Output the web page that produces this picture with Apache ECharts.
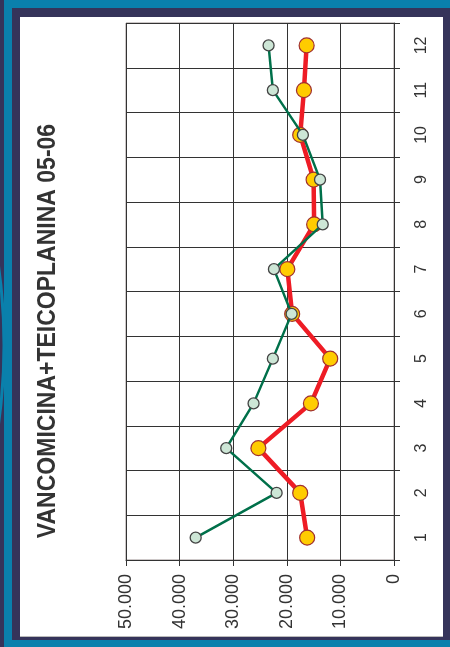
<!DOCTYPE html>
<html>
<head>
<meta charset="utf-8">
<script src="https://cdn.jsdelivr.net/npm/echarts@6/dist/echarts.min.js"></script>
<style>
  html, body { margin: 0; padding: 0; }
  body { width: 450px; height: 647px; background: #35345a; position: relative; overflow: hidden; }
  .teal { position: absolute; background: #0a80ac; }
  #panel { position: absolute; left: 20px; top: 17px; width: 423px; height: 619px; background: #ffffff; border-bottom: 1px solid #bbbbbb; }
  #chart { position: absolute; left: 0; top: 0; width: 450px; height: 647px; }
</style>
</head>
<body>
<div class="teal" style="left:4px;top:0;width:446px;height:8px;"></div>
<div class="teal" style="left:4px;top:0;width:8px;height:645px;"></div>
<div class="teal" style="left:4px;top:640px;width:446px;height:7px;"></div>
<div id="panel"></div>
<div id="chart"></div>
<script>
const titleText = 'VANCOMICINA+TEICOPLANINA 05-06';
const categories = ['1', '2', '3', '4', '5', '6', '7', '8', '9', '10', '11', '12'];
const valueTicks = [0, 10000, 20000, 30000, 40000, 50000];
const greenValues = [37000, 21900, 31300, 26200, 22600, 19100, 22400, 13300, 13800, 17000, 22600, 23400];
const redValues = [16200, 17500, 25300, 15500, 11900, 19000, 19900, 14900, 15000, 17500, 16800, 16300];

const chart = echarts.init(document.getElementById('chart'), null, { renderer: 'canvas' });

function fmt(v) {
  return String(v).replace(/\B(?=(\d{3})+(?!\d))/g, '.');
}

const option = {
  backgroundColor: 'transparent',
  animation: false,
  graphic: [
    {
      type: 'circle',
      silent: true,
      shape: { cx: -561, cy: 345, r: 565 },
      style: { fill: 'none', stroke: '#0a80ac', lineWidth: 3 }
    },
    {
      type: 'text',
      silent: true,
      x: 48,
      y: 331,
      rotation: Math.PI / 2,
      scaleY: 1.12,
      style: {
        text: titleText,
        fill: '#333333',
        font: 'bold 23px "Liberation Sans", Arial, sans-serif',
        align: 'center',
        verticalAlign: 'middle'
      }
    }
  ],
  grid: {
    left: 126,
    right: 56,
    top: 23,
    bottom: 87,
    show: true,
    borderColor: '#9a9090',
    borderWidth: 1
  },
  xAxis: {
    type: 'value',
    inverse: true,
    min: valueTicks[0],
    max: valueTicks[valueTicks.length - 1],
    interval: valueTicks[1] - valueTicks[0],
    position: 'bottom',
    axisLine: { show: true, lineStyle: { color: '#333333', width: 1 } },
    axisTick: { show: true, length: 6, lineStyle: { color: '#333333' } },
    splitLine: { show: true, lineStyle: { color: '#333333', width: 1 } },
    axisLabel: {
      rotate: 90,
      margin: 14,
      color: '#333333',
      fontFamily: '"Liberation Sans", Arial, sans-serif',
      fontSize: 18,
      formatter: fmt
    }
  },
  yAxis: {
    type: 'category',
    data: categories,
    position: 'right',
    boundaryGap: true,
    axisLine: { show: true, lineStyle: { color: '#333333', width: 1 } },
    axisTick: { show: true, length: 6, lineStyle: { color: '#333333' } },
    splitLine: { show: true, lineStyle: { color: '#333333', width: 1 } },
    axisLabel: {
      rotate: 90,
      margin: 20,
      color: '#333333',
      fontFamily: '"Liberation Sans", Arial, sans-serif',
      fontSize: 16
    }
  },
  series: [
    {
      name: 'red',
      type: 'line',
      data: redValues.map((v, i) => [v, categories[i]]),
      symbol: 'circle',
      symbolSize: 15,
      lineStyle: { color: '#ee1c25', width: 4.5 },
      itemStyle: { color: '#ffcc00', borderColor: '#a03030', borderWidth: 1.2 },
      z: 2
    },
    {
      name: 'green',
      type: 'line',
      data: greenValues.map((v, i) => [v, categories[i]]),
      symbol: 'circle',
      symbolSize: 11,
      lineStyle: { color: '#00704a', width: 2.5 },
      itemStyle: { color: '#cde6d6', borderColor: '#444444', borderWidth: 1.3 },
      z: 3
    }
  ]
};

chart.setOption(option);
</script>
</body>
</html>
